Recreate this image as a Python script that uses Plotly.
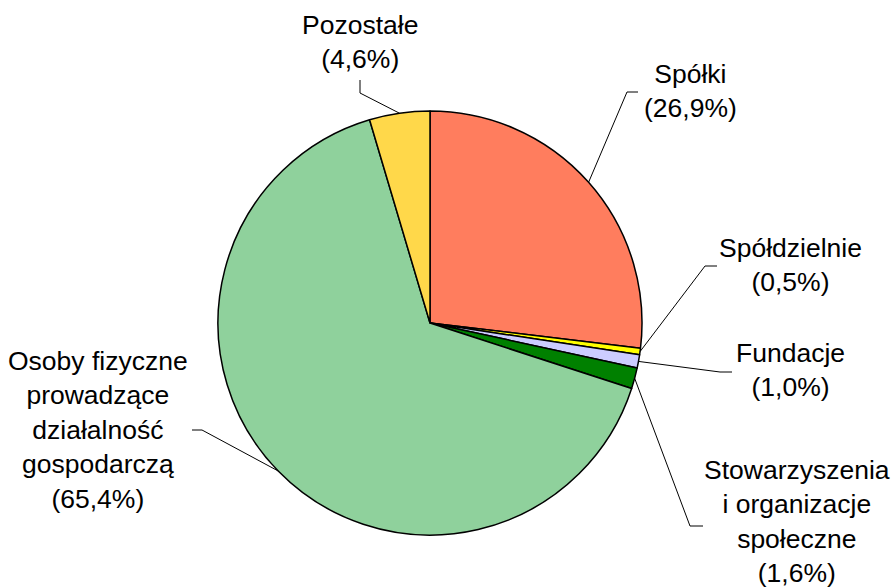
import math
import plotly.graph_objects as go

# ---- data ----
categories = ["Spółki", "Spółdzielnie", "Fundacje",
              "Stowarzyszenia i organizacje społeczne",
              "Osoby fizyczne prowadzące działalność gospodarczą",
              "Pozostałe"]
values = [26.9, 0.5, 1.0, 1.6, 65.4, 4.6]
label_texts = ["Spółki<br>(26,9%)",
               "Spółdzielnie<br>(0,5%)",
               "Fundacje<br>(1,0%)",
               "Stowarzyszenia<br>i organizacje<br>społeczne<br>(1,6%)",
               "Osoby fizyczne<br>prowadzące<br>działalność<br>gospodarczą<br>(65,4%)",
               "Pozostałe<br>(4,6%)"]
colors = ["#ff7d5e", "#ffff00", "#ccccff", "#008000", "#8fd19c", "#ffd84a"]

# ---- layout constants (pixels) ----
W, H = 892, 587
CX, CY, R = 430, 323, 212

# label text centres and leader elbows (pixel positions)
label_pos = [(690, 91), (790, 265), (790, 370), (797, 521), (98, 430), (360, 42)]
elbows = [((627, 92), (638, 92)),
          ((705, 266), (717, 266)),
          ((720, 372), (732, 372)),
          ((690, 526), (703, 526)),
          ((202, 430), (192, 430)),
          ((360, 93), (360, 80))]


def px(x):
    return x / W


def py(y):
    return 1 - y / H


fig = go.Figure()
fig.add_trace(go.Pie(
    labels=categories, values=values, sort=False, direction="clockwise",
    rotation=0, textinfo="none", hoverinfo="label+percent",
    marker=dict(colors=colors, line=dict(color="#000000", width=1.5)),
    domain=dict(x=[px(CX - R), px(CX + R)], y=[py(CY + R), py(CY - R)]),
    showlegend=False,
))

total = sum(values)
cum = 0.0
shapes = []
annotations = []
for i, v in enumerate(values):
    ang = math.radians((cum + v / 2) / total * 360)
    cum += v
    ex = CX + R * math.sin(ang)
    ey = CY - R * math.cos(ang)
    (bx, by), (tx, ty) = elbows[i]
    path = f"M {px(ex)},{py(ey)} L {px(bx)},{py(by)} L {px(tx)},{py(ty)}"
    shapes.append(dict(type="path", xref="paper", yref="paper", path=path,
                       line=dict(color="#000000", width=1)))
    lx, ly = label_pos[i]
    annotations.append(dict(x=px(lx), y=py(ly), xref="paper", yref="paper",
                            text=label_texts[i], showarrow=False,
                            xanchor="center", yanchor="middle", align="center",
                            font=dict(family="Liberation Sans, Arial, sans-serif",
                                      size=26.5, color="#000000")))

fig.update_layout(
    width=W, height=H,
    margin=dict(l=0, r=0, t=0, b=0),
    paper_bgcolor="#ffffff", plot_bgcolor="#ffffff",
    shapes=shapes, annotations=annotations,
)

fig.write_html("out.html", config={"displayModeBar": False},
               post_script="document.body.style.margin='0';document.body.style.padding='0';")
